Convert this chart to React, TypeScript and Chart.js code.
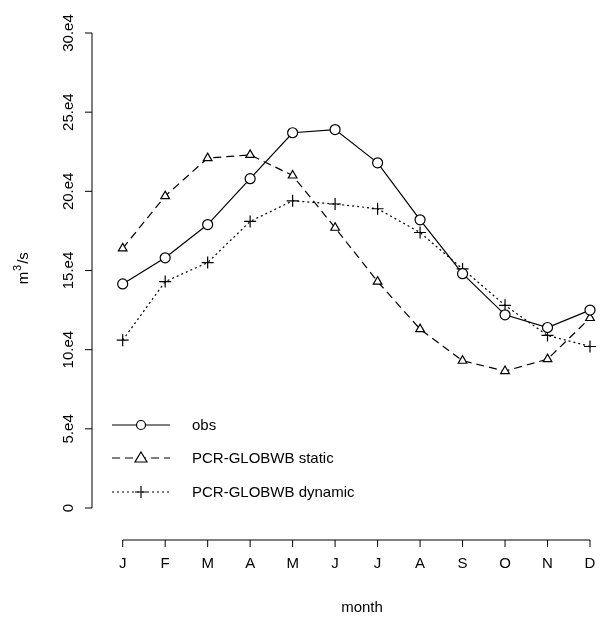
import React, { useEffect, useRef } from "react";
import { Chart, registerables } from "chart.js";
Chart.register(...registerables);

const months = ["J","F","M","A","M","J","J","A","S","O","N","D"];
const obs = [14.15,15.8,17.9,20.8,23.7,23.9,21.8,18.2,14.8,12.2,11.4,12.5];
const staticS = [16.4,19.7,22.1,22.3,21.0,17.7,14.3,11.3,9.3,8.65,9.4,12.0];
const dynamicS = [10.6,14.3,15.5,18.1,19.4,19.2,18.9,17.4,15.1,12.8,10.9,10.2];
const yTicks = [0,5,10,15,20,25,30];
const yTickLabels = ["0","5.e4","10.e4","15.e4","20.e4","25.e4","30.e4"];
const legendLabels = ["obs","PCR-GLOBWB static","PCR-GLOBWB dynamic"];

const FONT = '15px "Liberation Sans", Arial, sans-serif';

export default function App() {
  const ref = useRef<HTMLCanvasElement>(null);
  useEffect(() => {
    const mk = (d: number[]) => d.map((y, i) => ({ x: i, y }));
    const styles = [
      { dash: [], pt: "circle" },
      { dash: [8, 5], pt: "triangle" },
      { dash: [2, 3], pt: "cross" },
    ];
    const axes = {
      id: "raxes",
      afterDraw(c: any) {
        const ctx = c.ctx; const xs = c.scales.x; const ys = c.scales.y;
        ctx.save();
        ctx.strokeStyle = "#000"; ctx.fillStyle = "#000"; ctx.lineWidth = 1; ctx.setLineDash([]);
        ctx.font = FONT;
        // x axis
        const ay = 540;
        ctx.beginPath();
        ctx.moveTo(xs.getPixelForValue(0), ay); ctx.lineTo(xs.getPixelForValue(11), ay);
        months.forEach((m, i) => {
          const px = xs.getPixelForValue(i);
          ctx.moveTo(px, ay); ctx.lineTo(px, ay + 7);
        });
        ctx.stroke();
        ctx.textAlign = "center"; ctx.textBaseline = "middle";
        months.forEach((m, i) => ctx.fillText(m, xs.getPixelForValue(i), 564));
        ctx.fillText("month", 362, 608);
        // y axis
        const ax = 92;
        ctx.beginPath();
        ctx.moveTo(ax, ys.getPixelForValue(0)); ctx.lineTo(ax, ys.getPixelForValue(30));
        yTicks.forEach(v => { const py = ys.getPixelForValue(v); ctx.moveTo(ax, py); ctx.lineTo(ax - 7, py); });
        ctx.stroke();
        yTicks.forEach((v, i) => {
          ctx.save(); ctx.translate(69, ys.getPixelForValue(v)); ctx.rotate(-Math.PI / 2);
          ctx.fillText(yTickLabels[i], 0, 0); ctx.restore();
        });
        ctx.save(); ctx.translate(24, 270); ctx.rotate(-Math.PI / 2);
        ctx.fillText("m", -8, 0);
        ctx.font = '11px "Liberation Sans", Arial, sans-serif';
        ctx.fillText("3", 2, -6);
        ctx.font = FONT;
        ctx.fillText("/s", 12, 0);
        ctx.restore();
        // legend
        ctx.textAlign = "left";
        [425, 458, 492].forEach((ly, i) => {
          ctx.setLineDash(styles[i].dash); ctx.lineWidth = 1.2;
          ctx.beginPath(); ctx.moveTo(112, ly); ctx.lineTo(170, ly); ctx.stroke();
          ctx.setLineDash([]);
          const mx = 141;
          if (i === 0) { ctx.fillStyle = "#fff"; ctx.beginPath(); ctx.arc(mx, ly, 4.5, 0, 7); ctx.fill(); ctx.stroke(); }
          else if (i === 1) { ctx.fillStyle = "#fff"; ctx.beginPath(); ctx.moveTo(mx, ly - 6); ctx.lineTo(mx + 6, ly + 4); ctx.lineTo(mx - 6, ly + 4); ctx.closePath(); ctx.fill(); ctx.stroke(); }
          else { ctx.beginPath(); ctx.moveTo(mx - 6, ly); ctx.lineTo(mx + 6, ly); ctx.moveTo(mx, ly - 6); ctx.lineTo(mx, ly + 6); ctx.stroke(); }
          ctx.fillStyle = "#000";
          ctx.fillText(legendLabels[i], 192, ly + 1);
        });
        ctx.restore();
      },
    };
    const chart = new Chart(ref.current!, {
      type: "line",
      data: {
        datasets: [obs, staticS, dynamicS].map((d, i) => ({
          data: mk(d),
          borderColor: "#000",
          borderWidth: 1.2,
          borderDash: styles[i].dash,
          pointStyle: styles[i].pt as any,
          pointRadius: i === 2 ? 6 : 5,
          pointBorderColor: "#000",
          pointBorderWidth: 1.2,
          pointBackgroundColor: i === 2 ? "rgba(0,0,0,0)" : "#fff",
          tension: 0,
          clip: false as any,
        })),
      },
      options: {
        animation: false,
        responsive: false,
        events: [],
        layout: { padding: { left: 104, right: 0, top: 14, bottom: 98 } },
        plugins: { legend: { display: false }, tooltip: { enabled: false } },
        scales: {
          x: { type: "linear", min: -0.44, max: 11.16, display: false },
          y: { min: -1.2, max: 31.2, display: false },
        },
      },
      plugins: [axes],
    });
    return () => chart.destroy();
  }, []);
  return (
    <div style={{ position: "fixed", left: 0, top: 0, background: "#fff" }}>
      <canvas ref={ref} width={604} height={625} style={{ display: "block" }} />
    </div>
  );
}
